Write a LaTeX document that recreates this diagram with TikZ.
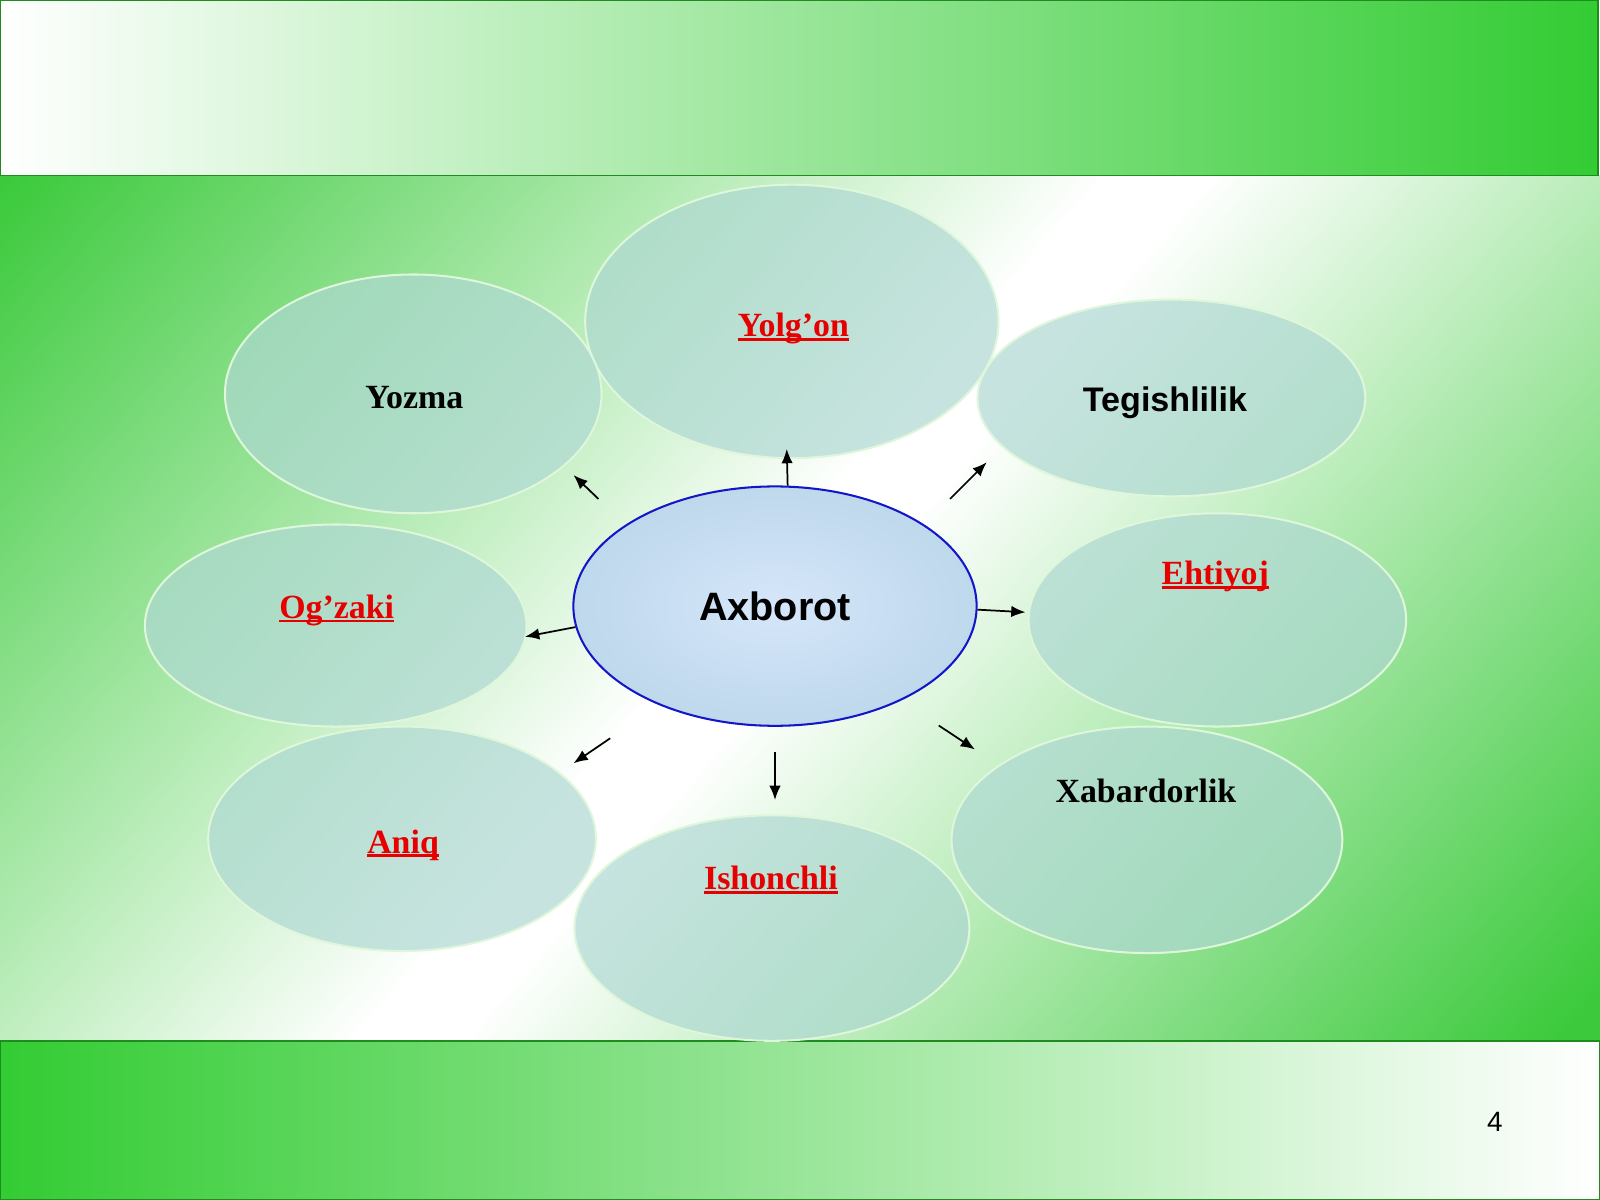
\documentclass[tikz,border=0pt]{standalone}
\usepackage{fontspec}
\setmainfont{Liberation Serif}
\newfontfamily\arialfont{Liberation Sans}
\usetikzlibrary{shapes.geometric,arrows.meta}
\definecolor{slidegreen}{RGB}{51,204,51}
\definecolor{bandgreen}{RGB}{60,202,60}
\definecolor{edgegreen}{RGB}{30,140,30}
\definecolor{petalfill}{RGB}{174,216,210}
\definecolor{petaledge}{RGB}{222,246,218}
\definecolor{hubouter}{RGB}{190,216,236}
\definecolor{hubinner}{RGB}{214,230,250}
\definecolor{hubedge}{RGB}{20,20,200}
\definecolor{wordred}{RGB}{230,0,0}
\pgfdeclareverticalshading{bandshade}{100bp}{color(0bp)=(bandgreen); color(16bp)=(bandgreen); color(49bp)=(white); color(52bp)=(white); color(85bp)=(bandgreen); color(100bp)=(bandgreen)}
\newcommand\undl[1]{\sbox0{#1}\rlap{\rule[-1.9pt]{\wd0}{1.3pt}}\usebox0}
\begin{document}
\begin{tikzpicture}[x=0.5pt,y=-0.5pt,
	petal/.style={ellipse, draw=petaledge, line width=1pt, fill=petalfill, fill opacity=0.7, inner sep=0pt},
	hub/.style={ellipse, draw=hubedge, line width=1pt, inner color=hubinner, outer color=hubouter, inner sep=0pt,
		font=\arialfont\fontsize{19.4}{23}\selectfont\bfseries},
	word/.style={font=\fontsize{16.6}{20}\selectfont\bfseries, anchor=base, inner sep=0pt},
	redword/.style={word, text=wordred},
	sansword/.style={font=\arialfont\fontsize{16.7}{20}\selectfont\bfseries, anchor=base, inner sep=0pt},
	spoke/.style={-{Latex[length=7pt,width=5.6pt]}, line width=0.85pt}]
	\useasboundingbox (0,0) rectangle (1568,1176);
	% slide background
	\shade[shading=bandshade, shading angle=49] (0,172) rectangle (1568,1020);
	\shade[left color=white, right color=slidegreen, draw=edgegreen, line width=0.8pt] (0,0) rectangle (1566,172);
	\shade[left color=slidegreen, right color=white, draw=edgegreen, line width=0.8pt] (0,1020) rectangle (1568,1176);
	\node[font=\arialfont\fontsize{13.7}{16}\selectfont, anchor=base] (page) at (1465,1109) {4};
	% petals
	\node[petal, minimum width=202.5pt, minimum height=134pt] (yolgon) at (776,315) {};
	\node[petal, minimum width=184.5pt, minimum height=117pt] (yozma) at (405,386) {};
	\node[petal, minimum width=190pt, minimum height=96.4pt] (tegish) at (1148,390) {};
	\node[petal, minimum width=187pt, minimum height=99pt] (ogzaki) at (329,613) {};
	\node[petal, minimum width=185pt, minimum height=104.5pt] (ehtiyoj) at (1193,607.5) {};
	\node[petal, minimum width=190pt, minimum height=110pt] (aniq) at (394,822) {};
	\node[petal, minimum width=191.5pt, minimum height=111pt] (xabar) at (1124,823) {};
	\node[petal, minimum width=193.5pt, minimum height=110.5pt] (ishonch) at (756.5,909.5) {};
	\node[hub, minimum width=197.6pt, minimum height=117.3pt] (hub) at (759.5,594) {Axborot};
	% labels
	\node[word] (yozmatxt) at (406,400) {Yozma};
	\node[redword] (yolgontxt) at (777.5,330) {\undl{Yolg’on}};
	\node[sansword] (tegishtxt) at (1141.7,403.5) {Tegishlilik};
	\node[redword] (ogzakitxt) at (330,606) {\undl{Og’zaki}};
	\node[redword] (ehtiyojtxt) at (1191,573) {\undl{Ehtiyoj}};
	\node[redword] (aniqtxt) at (395,836) {\undl{Aniq}};
	\node[redword] (ishonchtxt) at (755.5,872) {\undl{Ishonchli}};
	\node[word] (xabartxt) at (1123,786) {Xabardorlik};
	% spokes
	\coordinate (upE) at (771,440);
	\coordinate (urS) at (931,489);   \coordinate (urE) at (967,453);
	\coordinate (rtE) at (1005,600);
	\coordinate (drS) at (920,711);   \coordinate (drE) at (955.5,734.5);
	\coordinate (dnS) at (759.5,737); \coordinate (dnE) at (759.5,784);
	\coordinate (dlS) at (598,723.5); \coordinate (dlE) at (562,748);
	\coordinate (ltE) at (514.5,624);
	\coordinate (ulS) at (586.5,489); \coordinate (ulE) at (562,465.5);
	\draw[spoke] (hub.84.4) -- (upE);
	\draw[spoke] (urS) -- (urE);
	\draw[spoke] (hub.-1.5) -- (rtE);
	\draw[spoke] (drS) -- (drE);
	\draw[spoke] (dnS) -- (dnE);
	\draw[spoke] (dlS) -- (dlE);
	\draw[spoke] (hub.186) -- (ltE);
	\draw[spoke] (ulS) -- (ulE);
\end{tikzpicture}
\end{document}
